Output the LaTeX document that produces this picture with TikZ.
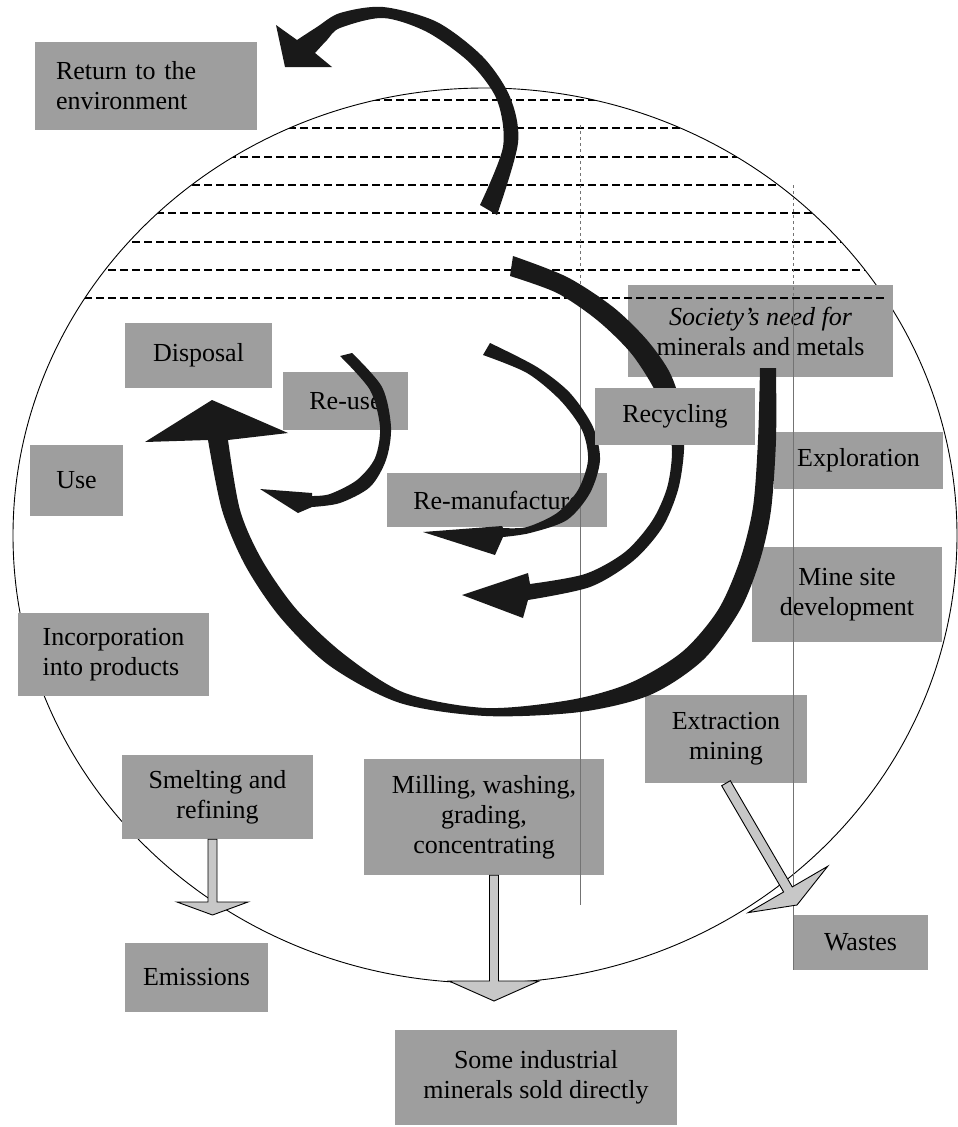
\documentclass[tikz,border=0pt]{standalone}
\usepackage{fontspec}
\setmainfont{Liberation Serif}
\usetikzlibrary{calc}

\tikzset{
  box/.style={fill=black!38,inner sep=0pt,align=center,
    font=\fontsize{26pt}{30pt}\selectfont},
  dashline/.style={line width=1.6pt,dash pattern=on 8pt off 4pt},
  gridline/.style={black!55,line width=.7pt},
  bigarrow/.style={fill=black!90},
  flowarr/.style={fill=black!22,draw=black,line width=.9pt,line join=miter},
}

% Start, Spitze, halbe Schaftbreite, halbe Kopfbreite, Kopflaenge
\newcommand\flowarrow[5]{%
  \coordinate (fa) at ($(#2)!#5!(#1)$);
  \filldraw[flowarr] ($(#1)!#3!90:(#2)$) -- ($(fa)!#3!90:(#2)$) -- ($(fa)!#4!90:(#2)$)
    -- (#2) -- ($(fa)!#4!-90:(#2)$) -- ($(fa)!#3!-90:(#2)$) -- ($(#1)!#3!-90:(#2)$) -- cycle;
}

\begin{document}
\begin{tikzpicture}[x=1pt,y=-1pt]
  \useasboundingbox (0,0) rectangle (958,1127);
  % Kreis
  \draw[line width=.9pt] (485,535.5) ellipse [x radius=472pt,y radius=447.5pt];
  % Kaesten
  \node[box,minimum width=222pt,minimum height=88pt,text width=180pt,align=left] (ret) at (146,86) {Return to the\\environment};
  \node[box,minimum width=265pt,minimum height=92pt] (soc) at (760.5,331) {\textit{Society's need for}\\minerals and metals};
  \node[box,minimum width=147pt,minimum height=65pt] (disp) at (198.5,355.5) {Disposal};
  \node[box,minimum width=125pt,minimum height=58pt] (reuse) at (345.5,401) {Re-use};
  \node[box,minimum width=93pt,minimum height=71pt] (use) at (76.5,480.5) {Use};
  \node[box,minimum width=220pt,minimum height=54pt] (reman) at (497,500) {Re-manufacture};
  \node[box,minimum width=169pt,minimum height=57pt] (expl) at (858.5,460.5) {Exploration};
  \node[box,minimum width=190pt,minimum height=95pt] (mine) at (847,594.5) {Mine site\\development};
  \node[box,minimum width=191pt,minimum height=83pt,align=left] (incorp) at (113.5,654.5) {Incorporation\\into products};
  \node[box,minimum width=162pt,minimum height=88pt] (extr) at (726,739) {Extraction\\mining};
  \node[box,minimum width=191pt,minimum height=84pt] (smelt) at (217.5,797) {Smelting and\\refining};
  \node[box,minimum width=240pt,minimum height=116pt] (mill) at (484,817) {Milling, washing,\\grading,\\concentrating};
  \node[box,minimum width=135pt,minimum height=55pt] (waste) at (860.5,942.5) {Wastes};
  \node[box,minimum width=143pt,minimum height=69pt] (emis) at (196.5,977.5) {Emissions};
  \node[box,minimum width=282pt,minimum height=95pt] (sold) at (536,1077.5) {Some industrial\\minerals sold directly};
  % Schraffur
  \begin{scope}
    \clip (485,535.5) ellipse [x radius=472pt,y radius=447.5pt];
    \foreach \y in {100,128,157,185,213,242,270,298}
      \draw[dashline] (0,\y) -- (958,\y);
  \end{scope}
  % Hilfslinien
  \draw[gridline,dashed] (580,125) -- (580,300);
  \draw[gridline] (580,300) -- (580,905);
  \draw[gridline,dashed] (793,185) -- (793,300);
  \draw[gridline] (793,300) -- (793,970);
  % Kreislaufpfeile
  \fill[bigarrow] plot[smooth] coordinates {(497,215) (518,143) (510,97) (483,57) (437,22) (383,7) (340,13) (317,27) (297,40)}
    -- (276,25) -- (285,67) -- (332,67)
    -- plot[smooth] coordinates {(315,53) (327,40) (340,28) (383,18) (427,32) (470,63) (497,100) (503,147) (480,205)} -- cycle;
  \fill[bigarrow] plot[smooth] coordinates {(776,368) (776,440) (771,510) (760,560) (740,610) (703,660) (650,695) (580,712) (486,716) (400,703) (330,666) (280,617) (245,565) (222,510) (208,440)}
    -- (145,442) -- (212,400) -- (288,433)
    -- plot[smooth] coordinates {(228,440) (240,510) (262,560) (297,610) (345,655) (405,693) (486,708) (570,700) (630,683) (682,652) (718,610) (740,560) (753,507) (758,440) (760,368)} -- cycle;
  \fill[bigarrow] plot[smooth] coordinates {(352,353) (382,387) (391,427) (386,460) (370,487) (340,503) (312,507)}
    -- (298,513) -- (260,489) -- (312,493)
    -- plot[smooth] coordinates {(312,496) (330,494) (357,480) (375,458) (380,427) (370,390) (340,356)} -- cycle;
  \fill[bigarrow] plot[smooth] coordinates {(490,343) (537,367) (570,393) (593,427) (600,460) (590,493) (567,520) (530,533) (503,537)}
    -- (495,555) -- (423,532) -- (502,526)
    -- plot[smooth] coordinates {(503,528) (527,527) (557,513) (578,490) (588,460) (582,430) (560,400) (527,373) (483,355)} -- cycle;
  \fill[bigarrow] plot[smooth] coordinates {(513,256) (567,277) (613,307) (647,340) (670,373) (682,410) (684,450) (678,490) (662,528) (633,561) (590,587) (528,600)}
    -- (523,618) -- (462,595) -- (528,573)
    -- plot[smooth] coordinates {(530,584) (585,574) (625,552) (652,521) (667,488) (672,452) (667,418) (652,385) (630,352) (597,320) (557,293) (510,276)} -- cycle;
  \node[box,minimum width=160pt,minimum height=57pt] (recy) at (675,416.5) {Recycling};
  % Abgaben
  \coordinate (emisin) at (212.5,915);
  \coordinate (smeltout) at (smelt.south -| emisin);
  \coordinate (millout) at (494,1001);
  \coordinate (millin) at (mill.south -| millout);
  \coordinate (wastein) at (797,905);
  \flowarrow{smeltout}{emisin}{4.5pt}{35.5pt}{13pt}
  \flowarrow{millin}{millout}{4.5pt}{45pt}{20pt}
  \flowarrow{extr.south}{wastein}{5pt}{46pt}{18pt}
\end{tikzpicture}
\end{document}
